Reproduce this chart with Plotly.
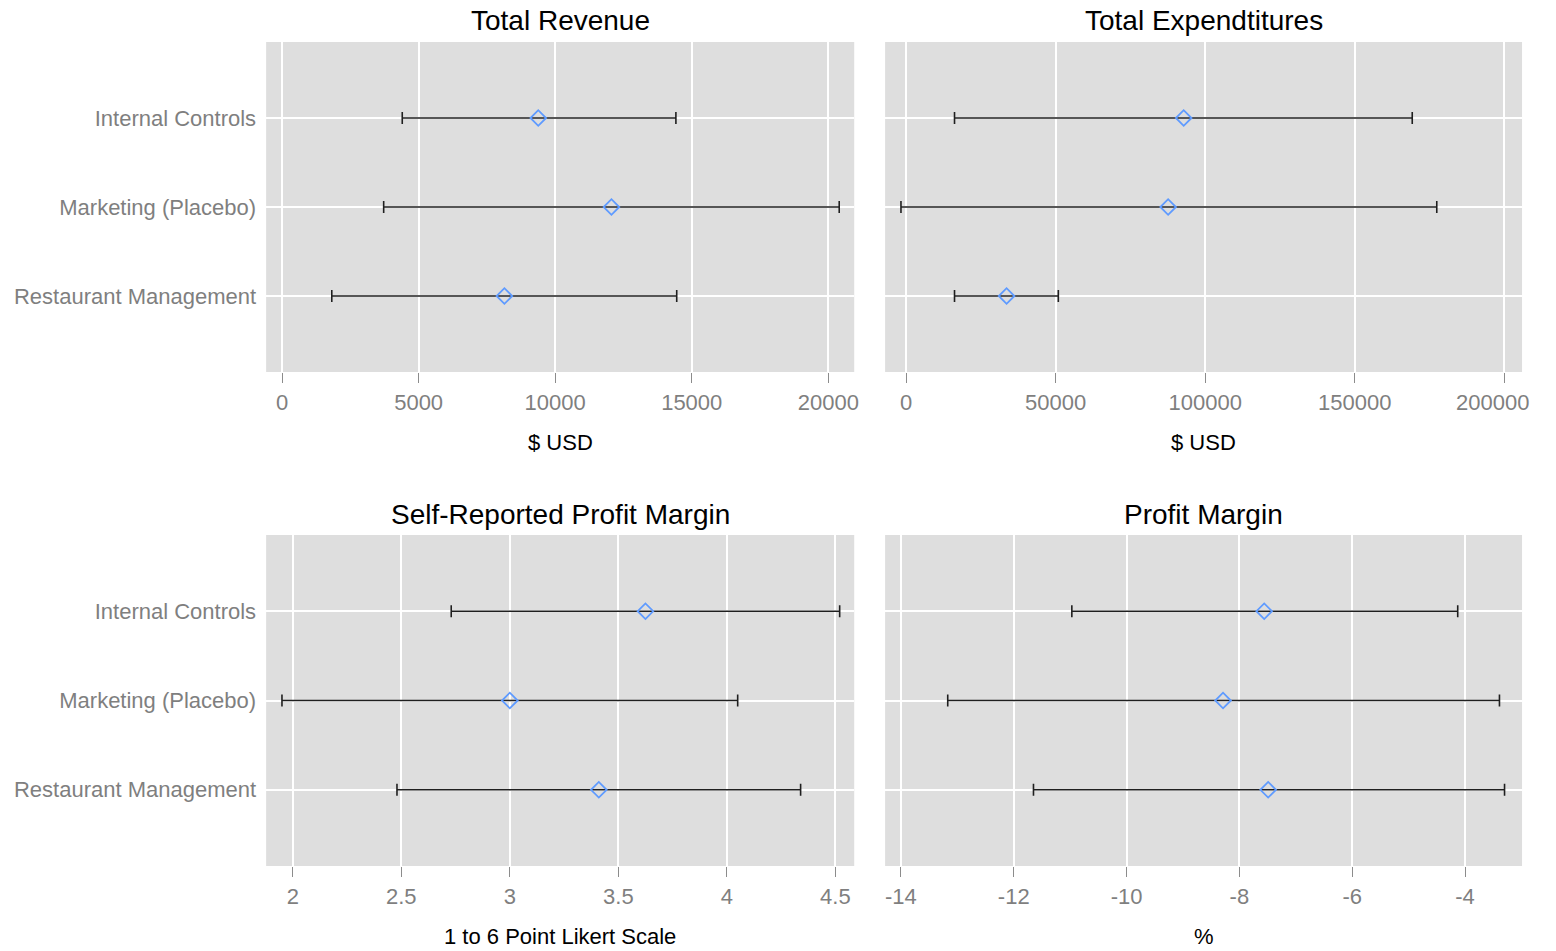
import plotly.graph_objects as go

# Treatment groups (top to bottom)
groups = ["Internal Controls", "Marketing (Placebo)", "Restaurant Management"]

# Total revenue ($ USD): mean with lower / upper interval bounds
revenue_mean = [9380, 12060, 8140]
revenue_low = [4400, 3720, 1820]
revenue_high = [14420, 20400, 14450]

# Total expenditures ($ USD)
expend_mean = [92800, 87600, 33600]
expend_low = [16200, -1700, 16200]
expend_high = [169200, 177400, 50900]

# Self-reported profit margin (1 to 6 point Likert scale)
likert_mean = [3.625, 3.00, 3.41]
likert_low = [2.73, 1.95, 2.48]
likert_high = [4.52, 4.05, 4.34]

# Profit margin (%)
margin_mean = [-7.56, -8.29, -7.49]
margin_low = [-10.97, -13.17, -11.65]
margin_high = [-4.13, -3.39, -3.30]

panel_titles = ["Total Revenue", "Total Expendtitures", "Self-Reported Profit Margin", "Profit Margin"]
axis_titles = ["$ USD", "$ USD", "1 to 6 Point Likert Scale", "%"]

revenue_ticks = [0, 5000, 10000, 15000, 20000]
revenue_ticktext = ["0", "5000", "10000", "15000", "20000"]
expend_ticks = [0, 50000, 100000, 150000, 200000]
expend_ticktext = ["0", "50000", "100000", "150000", "200000"]
likert_ticks = [2, 2.5, 3, 3.5, 4, 4.5]
likert_ticktext = ["2", "2.5", "3", "3.5", "4", "4.5"]
margin_ticks = [-14, -12, -10, -8, -6, -4]
margin_ticktext = ["-14", "-12", "-10", "-8", "-6", "-4"]

W, H = 1536, 951
FONT = "Liberation Sans, Arial, sans-serif"
PANEL_BG = "#DEDEDE"
GREY_TEXT = "#7F7F7F"
POINT_BLUE = "#5F9BFF"
TICK_FONT = dict(family=FONT, size=22, color=GREY_TEXT)

panels = [
    dict(mean=revenue_mean, low=revenue_low, high=revenue_high,
         rng=[-584, 20949], ticks=revenue_ticks, ticktext=revenue_ticktext,
         px=(267, 857), py=(42, 372)),
    # the last expenditure label sits at the page edge, so it is drawn
    # right-aligned as an annotation below instead of as a centred tick label
    dict(mean=expend_mean, low=expend_low, high=expend_high,
         rng=[-7000, 205900], ticks=expend_ticks,
         ticktext=expend_ticktext[:-1] + [""],
         px=(888, 1527), py=(42, 372)),
    dict(mean=likert_mean, low=likert_low, high=likert_high,
         rng=[1.877, 4.587], ticks=likert_ticks, ticktext=likert_ticktext,
         px=(267, 857), py=(535, 866)),
    dict(mean=margin_mean, low=margin_low, high=margin_high,
         rng=[-14.28, -2.99], ticks=margin_ticks, ticktext=margin_ticktext,
         px=(888, 1527), py=(535, 866)),
]

fig = go.Figure()
layout = dict(
    width=W, height=H, autosize=False,
    margin=dict(l=0, r=0, t=0, b=0),
    paper_bgcolor="white",
    plot_bgcolor=PANEL_BG,
    showlegend=False,
    font=dict(family=FONT, size=22, color="black"),
    annotations=[],
)

order = list(reversed(groups))

for i, p in enumerate(panels):
    n = "" if i == 0 else str(i + 1)
    xa, ya = "x" + n, "y" + n
    err_plus = [h - m for h, m in zip(p["high"], p["mean"])]
    err_minus = [m - l for m, l in zip(p["mean"], p["low"])]
    fig.add_trace(go.Scatter(
        x=p["mean"], y=groups, xaxis=xa, yaxis=ya,
        mode="markers",
        marker=dict(symbol="diamond-open", size=12, color=POINT_BLUE,
                    line=dict(width=1.8, color=POINT_BLUE)),
        error_x=dict(type="data", symmetric=False, array=err_plus,
                     arrayminus=err_minus, color="#1F1F1F",
                     thickness=1.6, width=6),
        hoverinfo="skip",
    ))
    x0, x1 = p["px"]
    y0, y1 = p["py"]
    layout["xaxis" + n] = dict(
        domain=[x0 / W, x1 / W], anchor=ya, range=p["rng"],
        tickvals=p["ticks"], ticktext=p["ticktext"],
        ticks="outside", ticklen=10, tickwidth=1, tickcolor="#8C8C8C",
        ticklabelstandoff=1,
        tickfont=TICK_FONT,
        showgrid=True, gridcolor="white", gridwidth=1.5,
        zeroline=False, showline=False, fixedrange=True,
    )
    layout["yaxis" + n] = dict(
        domain=[1 - y1 / H, 1 - y0 / H], anchor=xa,
        type="category", categoryorder="array", categoryarray=order,
        range=[-0.854, 2.854],
        showticklabels=(i % 2 == 0), ticks="",
        ticklabelstandoff=9,
        tickfont=TICK_FONT,
        showgrid=True, gridcolor="white", gridwidth=1.5,
        zeroline=False, showline=False, fixedrange=True,
    )
    cx = (x0 + x1) / 2 / W
    layout["annotations"].append(dict(
        text=panel_titles[i], x=cx, y=1 - (y0 - 21) / H,
        xref="paper", yref="paper", xanchor="center", yanchor="middle",
        showarrow=False, font=dict(family=FONT, size=28, color="black"),
    ))
    layout["annotations"].append(dict(
        text=axis_titles[i], x=cx, y=1 - (y1 + 70) / H,
        xref="paper", yref="paper", xanchor="center", yanchor="middle",
        showarrow=False, font=dict(family=FONT, size=22, color="black"),
    ))

# right-most expenditure tick label
layout["annotations"].append(dict(
    text=expend_ticktext[-1], x=1, y=1 - 402 / H,
    xref="paper", yref="paper", xanchor="right", yanchor="middle",
    showarrow=False, font=TICK_FONT,
))

fig.update_layout(**layout)
fig.write_html(
    "out.html",
    config={"responsive": False, "displayModeBar": False},
    post_script="document.body.style.margin='0';document.body.style.overflow='hidden';",
)
